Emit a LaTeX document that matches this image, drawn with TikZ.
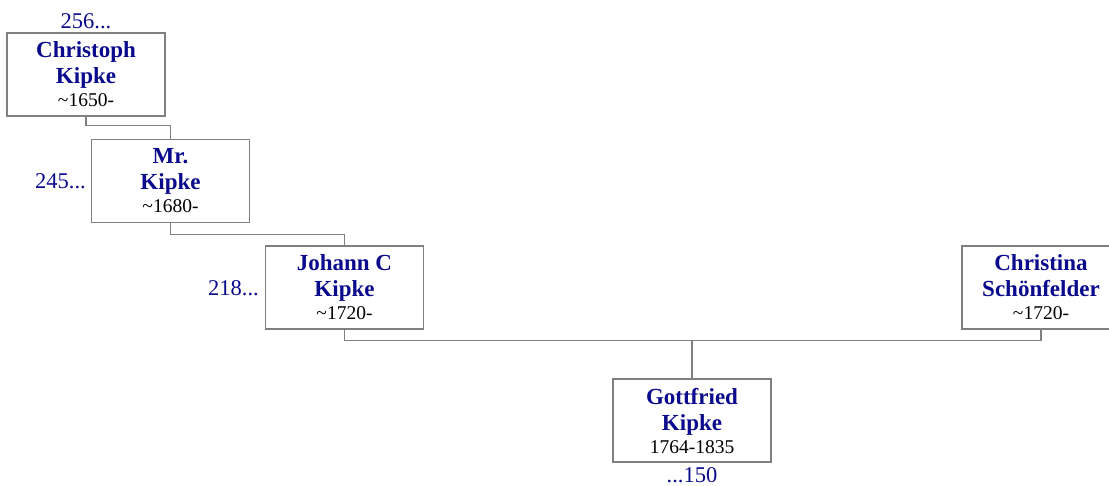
\documentclass[tikz,border=0pt]{standalone}
\usepackage{fontspec}
\setmainfont{Liberation Serif}
\definecolor{navy}{RGB}{10,10,140}
\definecolor{boxgray}{RGB}{128,128,128}
\newcommand{\nm}[1]{{\bfseries\color{navy}#1}}
\newcommand{\dt}[1]{{\fontsize{19.5}{22}\selectfont #1}}
\tikzset{
  person/.style={draw=boxgray, line width=1.2pt, minimum width=158pt, minimum height=83pt,
    align=center, inner sep=0pt, text=black, font=\fontsize{23}{26}\selectfont},
  link/.style={draw=boxgray, line width=1.1pt},
  numlbl/.style={text=navy, font=\fontsize{22.5}{24}\selectfont, inner sep=0pt}
}
\begin{document}
\begin{tikzpicture}[x=1pt,y=-1pt]
\useasboundingbox (0,0) rectangle (1109,485);
\clip (0,0) rectangle (1109,485);
\node[person] (c1) at (86,74.5) {\nm{Christoph}\\\nm{Kipke}\\[-3pt]\dt{\textasciitilde1650-}};
\node[person] (c2) at (170.5,181) {\nm{Mr.}\\\nm{Kipke}\\[-3pt]\dt{\textasciitilde1680-}};
\node[person] (c3) at (344.5,287.5) {\nm{Johann C}\\\nm{Kipke}\\[-3pt]\dt{\textasciitilde1720-}};
\node[person] (cs) at (1041,287.5) {\nm{Christina}\\\nm{Schönfelder}\\[-3pt]\dt{\textasciitilde1720-}};
\node[person] (g) at (692,420.5) {\nm{Gottfried}\\\nm{Kipke}\\[-3pt]\dt{1764-1835}};
\node[numlbl, anchor=base] (n1) at (86,28) {256...};
\node[numlbl, anchor=base east] (n2) at (86,188) {245...};
\node[numlbl, anchor=base east] (n3) at (259,295) {218...};
\node[numlbl, anchor=base] (n4) at (692,482) {...150};
\coordinate (m) at (692,340);
\draw[link] (c1.south) -- ++(0,9) -| (c2.north);
\draw[link] (c2.south) -- ++(0,11) -| (c3.north);
\draw[link] (c3.south) -- ++(0,11) -| (cs.south);
\draw[link] (m) -- (g.north);
\end{tikzpicture}
\end{document}
